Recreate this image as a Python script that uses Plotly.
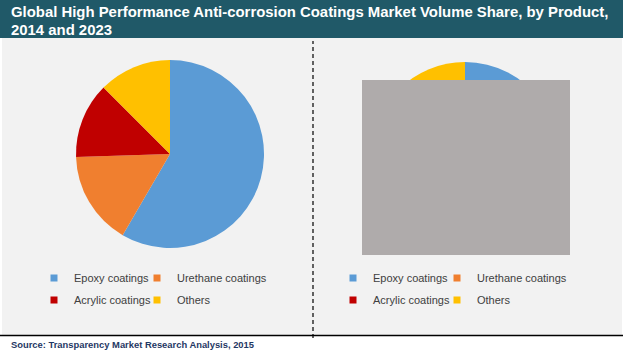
import plotly.graph_objects as go

W, H = 623, 355

categories = ["Epoxy coatings", "Urethane coatings", "Acrylic coatings", "Others"]
share_2014 = [58.4, 16.1, 13.0, 12.5]
share_2023 = [60.5, 15.0, 12.0, 12.5]
colors = ["#5B9BD5", "#F07F2F", "#C00000", "#FFC000"]

title_lines = ["Global High Performance Anti-corrosion Coatings Market Volume Share, by Product,",
               "2014 and 2023"]
source_text = "Source: Transparency Market Research Analysis, 2015"

def px_x(x):
    return x / W

def px_y(y):
    return 1 - y / H

fig = go.Figure()

# pies
fig.add_trace(go.Pie(labels=categories, values=share_2014, sort=False, direction="clockwise",
                     rotation=0, marker=dict(colors=colors, line=dict(width=0)),
                     textinfo="none", hoverinfo="label+percent", showlegend=False,
                     domain=dict(x=[px_x(76), px_x(264)], y=[px_y(248), px_y(60)])))
fig.add_trace(go.Pie(labels=categories, values=share_2023, sort=False, direction="clockwise",
                     rotation=0, marker=dict(colors=colors, line=dict(width=0)),
                     textinfo="none", hoverinfo="label+percent", showlegend=False,
                     domain=dict(x=[px_x(371), px_x(559)], y=[px_y(250), px_y(62)])))

# legend entries: one small legend per entry, laid out as a 2x2 grid under each pie
leg_font = dict(family="Liberation Sans, Arial, sans-serif", size=11, color="#404040")
text_x = {0: [75, 178], 1: [374, 478]}   # text start per column, per side
row_y = [278, 300]
grid = {0: (0, 0), 1: (0, 1), 2: (1, 0), 3: (1, 1)}  # category -> (row, col)

legend_layouts = {}
n = 0
for side in range(2):
    for i, cat in enumerate(categories):
        n += 1
        lname = "legend" if n == 1 else f"legend{n}"
        r, c = grid[i]
        fig.add_trace(go.Scatter(x=[None], y=[None], mode="markers", name=cat,
                                 marker=dict(symbol="square", size=7, color=colors[i]),
                                 legend=lname, showlegend=True, hoverinfo="skip"))
        legend_layouts[lname] = dict(orientation="h", x=px_x(text_x[side][c] - 41), y=px_y(row_y[r]),
                                     xanchor="left", yanchor="middle", bgcolor="rgba(0,0,0,0)",
                                     font=leg_font, itemwidth=30)

shapes = [
    # light grey panel
    dict(type="rect", xref="paper", yref="paper", x0=px_x(2), x1=px_x(622), y0=px_y(335), y1=px_y(38),
         fillcolor="#F2F2F2", line=dict(width=0), layer="below"),
    # title bar
    dict(type="rect", xref="paper", yref="paper", x0=0, x1=1, y0=px_y(38), y1=1,
         fillcolor="#205968", line=dict(width=0), layer="below"),
    # bottom rule
    dict(type="line", xref="paper", yref="paper", x0=0, x1=1, y0=px_y(335.5), y1=px_y(335.5),
         line=dict(color="#000000", width=1.5), layer="above"),
    # dashed divider
    dict(type="line", xref="paper", yref="paper", x0=px_x(313), x1=px_x(313), y0=px_y(338), y1=px_y(41),
         line=dict(color="#000000", width=1.2, dash="4px,3px"), layer="above"),
    # grey box covering right pie
    dict(type="rect", xref="paper", yref="paper", x0=px_x(362), x1=px_x(570), y0=px_y(255), y1=px_y(80),
         fillcolor="#AFABAB", line=dict(width=0), layer="above"),
]

title_font = dict(family="Liberation Sans, Arial, sans-serif", size=14.9, color="#FFFFFF", weight="bold")
annotations = [
    dict(text=title_lines[0], xref="paper", yref="paper", x=px_x(9), y=px_y(12.5), xanchor="left",
         yanchor="middle", showarrow=False, align="left", font=title_font),
    dict(text=title_lines[1], xref="paper", yref="paper", x=px_x(9), y=px_y(29.5), xanchor="left",
         yanchor="middle", showarrow=False, align="left", font=title_font),
    dict(text=source_text, xref="paper", yref="paper", x=px_x(9), y=px_y(344), xanchor="left", yanchor="middle",
         showarrow=False, align="left",
         font=dict(family="Liberation Sans, Arial, sans-serif", size=9.4,
                   color="#1F3864", weight="bold")),
]

fig.update_layout(
    width=W, height=H, margin=dict(l=0, r=0, t=0, b=0),
    paper_bgcolor="#FFFFFF", plot_bgcolor="rgba(0,0,0,0)",
    xaxis=dict(visible=False), yaxis=dict(visible=False),
    shapes=shapes, annotations=annotations,
    **legend_layouts,
)

fig.write_html("out.html", config={"displayModeBar": False},
               post_script="document.body.style.margin='0px';")
